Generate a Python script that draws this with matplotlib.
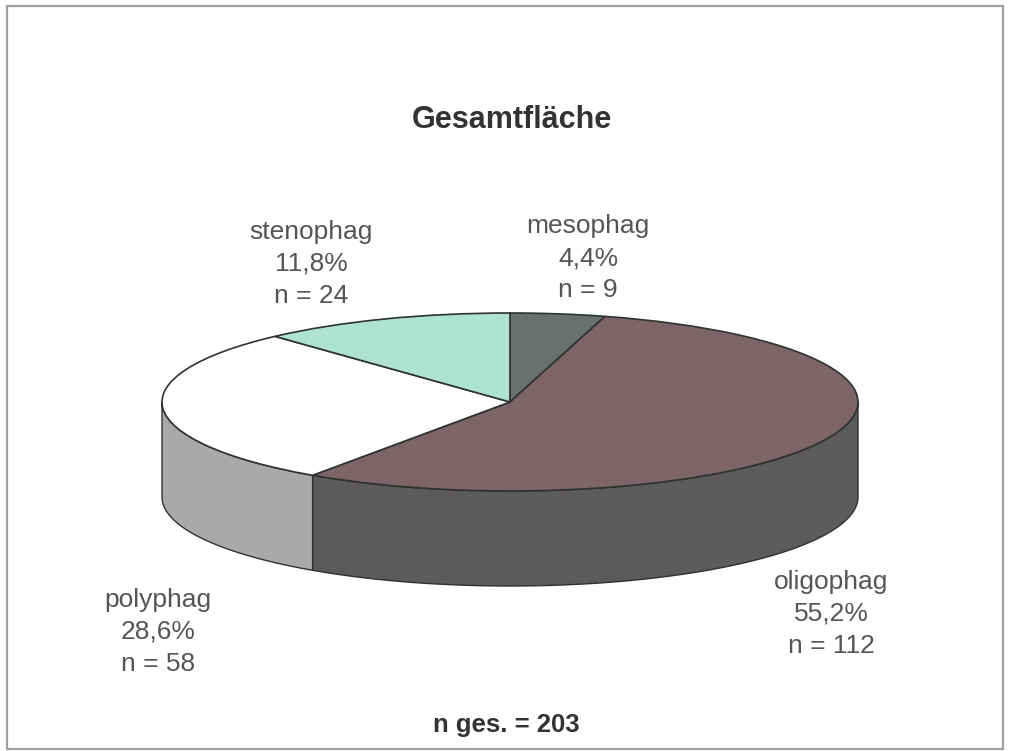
import numpy as np
import matplotlib
matplotlib.use("Agg")
import matplotlib.pyplot as plt
from matplotlib.patches import Polygon, Rectangle

categories = ["mesophag", "oligophag", "polyphag", "stenophag"]
percent = [4.4, 55.2, 28.6, 11.8]
percent_labels = ["4,4%", "55,2%", "28,6%", "11,8%"]
counts = [9, 112, 58, 24]
title = "Gesamtfläche"
total_label = "n ges. = 203"

top_colors = ["#6a706e", "#7c6468", "#ffffff", "#aee3d2"]
side_colors = ["#5a5a5a", "#5c5a5a", "#a9a9a9", "#cfcfcf"]
edge = "#2e3230"
text_col = "#555555"

W, H = 1012, 751
CX, CY, RX, RY, DEPTH = 510.0, 402.0, 348.0, 89.0, 95.0
label_pos = [(588, 258), (831, 614), (158, 632), (311, 264)]

plt.rcParams["font.family"] = ["Liberation Sans", "DejaVu Sans"]
fig = plt.figure(figsize=(W / 100, H / 100), dpi=100, facecolor="white")
ax = fig.add_axes([0, 0, 1, 1])
# data unit = pie radius; the axes limits squash the circle to the scanned ellipse
ax.set_xlim(-CX / RX, (W - CX) / RX)
ax.set_ylim((CY - H) / RY, CY / RY)
ax.axis("off")

ax.add_patch(Rectangle((7, 2), 996, 743, transform=None, fill=False, ec="#a0a0a0", lw=1.6))

d = DEPTH / RY
fracs = np.array(percent) / sum(percent)
edges = np.concatenate([[0], np.cumsum(fracs)]) * 2 * np.pi  # clockwise from 12 o'clock
for i in range(len(percent)):
    a0, a1 = max(edges[i], np.pi / 2), min(edges[i + 1], 1.5 * np.pi)
    if a1 <= a0:
        continue
    t = np.linspace(a0, a1, 200)
    x, y = np.sin(t), np.cos(t)
    pts = np.r_[np.c_[x, y], np.c_[x[::-1], y[::-1] - d]]
    ax.add_patch(Polygon(pts, closed=True, fc=side_colors[i], ec=edge, lw=1.0, zorder=2))

ax.pie(percent, colors=top_colors, startangle=90, counterclock=False, radius=1, center=(0, 0),
       frame=True, wedgeprops=dict(edgecolor=edge, linewidth=1.2, zorder=3))
ax.set_aspect("auto")
ax.set_xlim(-CX / RX, (W - CX) / RX)
ax.set_ylim((CY - H) / RY, CY / RY)
ax.set_xticks([]); ax.set_yticks([])
ax.axis("off")

for name, pct, n, (px, py) in zip(categories, percent_labels, counts, label_pos):
    for k, s in enumerate([name, pct, f"n = {n}"]):
        fig.text(px / W, 1 - (py + (k - 1) * 32) / H, s, ha="center", va="center",
                 fontsize=19, color=text_col)

fig.text(512 / W, 1 - 120 / H, title, ha="center", va="center", fontsize=22, fontweight="bold", color="#333333")
fig.text(506 / W, 1 - 725 / H, total_label, ha="center", va="center", fontsize=18.5, fontweight="bold", color="#333333")

fig.savefig("out.png", dpi=100)
